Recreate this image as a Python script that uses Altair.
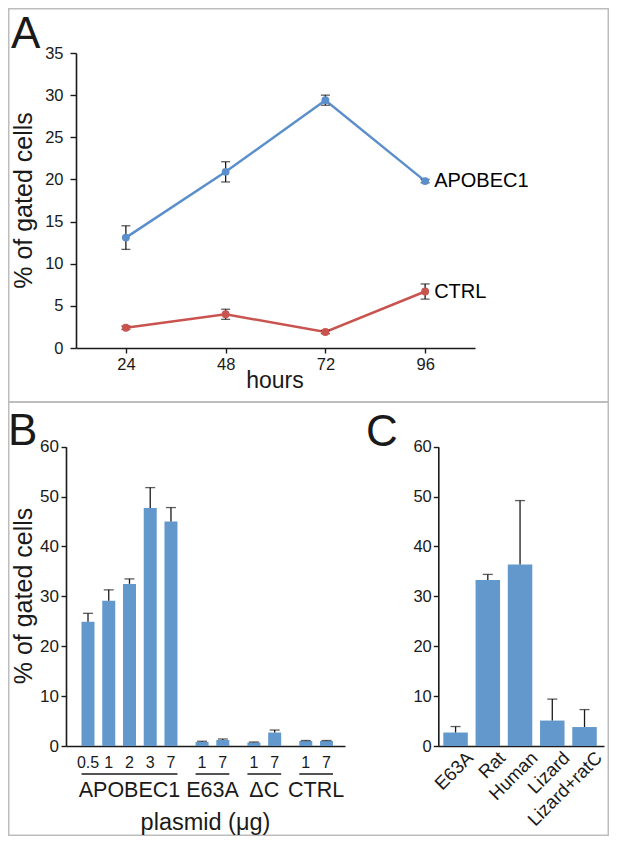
import altair as alt
import pandas as pd

FONT = "Liberation Sans"
INK = "#1a1a1a"
BLUE = "#5b8fcb"
RED = "#c9544f"
BAR = "#6398cd"
FRAME = "#bdbdbd"

# ---------------- Panel A data ----------------
hours = [24, 48, 72, 96]
series_names = ["APOBEC1", "CTRL"]
apobec1_mean = [13.1, 20.9, 29.4, 19.8]
apobec1_err = [1.4, 1.2, 0.6, 0.2]
ctrl_mean = [2.4, 4.0, 1.9, 6.7]
ctrl_err = [0.2, 0.6, 0.2, 0.9]
a_ticks = [0, 5, 10, 15, 20, 25, 30, 35]

# ---------------- Panel B data ----------------
b_group_names = ["APOBEC1", "E63A", "ΔC", "CTRL"]
b_doses = [["0.5", "1", "2", "3", "7"], ["1", "7"], ["1", "7"], ["1", "7"]]
b_values = [24.9, 29.1, 32.5, 47.7, 45.0, 0.8, 1.2, 0.7, 2.7, 1.0, 1.0]
b_errors = [1.7, 2.2, 1.0, 4.1, 2.8, 0.15, 0.2, 0.1, 0.5, 0.1, 0.1]
bc_ticks = [0, 10, 20, 30, 40, 50, 60]

# ---------------- Panel C data ----------------
c_categories = ["E63A", "Rat", "Human", "Lizard", "Lizard+ratC"]
c_values = [2.7, 33.3, 36.4, 5.1, 3.8]
c_errors = [1.2, 1.1, 12.8, 4.3, 3.5]

one = pd.DataFrame({"k": [0]})

dfA = pd.DataFrame({
    "hours": hours * 2,
    "mean": apobec1_mean + ctrl_mean,
    "err": apobec1_err + ctrl_err,
    "series": [series_names[0]] * len(hours) + [series_names[1]] * len(hours),
})
dfA["lo"] = dfA["mean"] - dfA["err"]
dfA["hi"] = dfA["mean"] + dfA["err"]

rows = []
i = 0
for g, (name, doses) in enumerate(zip(b_group_names, b_doses)):
    for d in doses:
        rows.append({"group": name, "dose": d, "slot": i + 0.5 * g,
                     "value": b_values[i], "top": b_values[i] + b_errors[i]})
        i += 1
dfB = pd.DataFrame(rows)

dfC = pd.DataFrame({"cat": c_categories, "value": c_values,
                    "top": [v + e for v, e in zip(c_values, c_errors)]})

W, H = 601, 828   # whole figure drawn in a single view (page = view + 8px)


def axis(**kw):
    base = dict(domainColor=INK, domainWidth=1.6, tickColor=INK, tickWidth=1.4,
                labelColor=INK, labelFont=FONT, grid=False, title=None,
                labelFlush=False, labelOverlap=False)
    base.update(kw)
    return alt.Axis(**base)


def text(s, x, y, size, **kw):
    return alt.Chart(one).mark_text(text=s, fontSize=size, font=FONT, color=INK,
                                    **kw).encode(x=alt.value(x), y=alt.value(y))


# ---------------- decorations: frame, panel letters, titles ----------------
frameBox = alt.Chart(one).mark_rect(fillOpacity=0, stroke=FRAME, strokeWidth=1.5).encode(
    x=alt.value(0.75), x2=alt.value(W - 0.75), y=alt.value(0.75), y2=alt.value(H - 0.75))
frameDiv = alt.Chart(one).mark_rule(color=FRAME, strokeWidth=2).encode(
    x=alt.value(0.75), x2=alt.value(W - 0.75), y=alt.value(394))
deco = alt.layer(
    frameBox, frameDiv,
    text("A", 3, 40, 44, align="left", baseline="alphabetic"),
    text("B", 0, 437, 44, align="left", baseline="alphabetic"),
    text("C", 358, 438, 44, align="left", baseline="alphabetic"),
    text("% of gated cells", 24, 192.5, 25, align="center", baseline="alphabetic", angle=270),
    text("hours", 267, 380, 23, align="center", baseline="alphabetic"),
    text("% of gated cells", 23.7, 588, 25, align="center", baseline="alphabetic", angle=270),
    text("plasmid (μg)", 197.5, 821.5, 23.5, align="center", baseline="alphabetic"),
)

# ---------------- Panel A ----------------
xA = alt.X("hours:Q", scale=alt.Scale(domain=[12, 108], range=[68, 467], nice=False, zero=False),
           axis=axis(orient="bottom", offset=340 - H, values=hours, tickSize=5,
                     labelFontSize=16.5, labelPadding=3.5))
yA = alt.Y("mean:Q", scale=alt.Scale(domain=[0, 35], range=[340, 45], nice=False),
           axis=axis(orient="left", offset=-68, values=a_ticks, tickSize=6,
                     labelFontSize=16.5, labelPadding=7))
colA = alt.Color("series:N", scale=alt.Scale(domain=series_names, range=[BLUE, RED]),
                 legend=None)
baseA = alt.Chart(dfA)
linesA = baseA.mark_line(strokeWidth=2.5).encode(x=xA, y=yA, color=colA, detail="series:N")
errA = baseA.mark_rule(color=INK, strokeWidth=1.3).encode(x=xA, y="lo:Q", y2="hi:Q")
capHiA = baseA.mark_tick(orient="horizontal", size=9, thickness=1.3, color=INK).encode(x=xA, y="hi:Q")
capLoA = baseA.mark_tick(orient="horizontal", size=9, thickness=1.3, color=INK).encode(x=xA, y="lo:Q")
ptsA = baseA.mark_circle(size=62, opacity=1).encode(x=xA, y=yA, color=colA)
labA = baseA.transform_filter(alt.datum.hours == hours[-1]).mark_text(
    align="left", baseline="middle", dx=9, fontSize=20, font=FONT, color="black").encode(
    x=xA, y=yA, text="series:N")
panelA = alt.layer(linesA, errA, capHiA, capLoA, ptsA, labA)

# ---------------- Panel B ----------------
xB = alt.X("slot:Q", scale=alt.Scale(domain=[-0.82, 12.15], range=[58, 337], nice=False,
                                     zero=False),
           axis=axis(orient="bottom", offset=738 - H, labels=False, ticks=False, tickSize=0))
yB = alt.Y("value:Q", scale=alt.Scale(domain=[0, 60], range=[738, 438.7], nice=False),
           axis=axis(orient="left", offset=-58, values=bc_ticks, tickSize=5,
                     labelFontSize=17, labelPadding=2.5))
baseB = alt.Chart(dfB)
barsB = baseB.mark_bar(width=13, color=BAR).encode(x=xB, y=yB)
errB = baseB.mark_rule(color=INK, strokeWidth=1.3).encode(x=xB, y="value:Q", y2="top:Q")
capB = baseB.mark_tick(orient="horizontal", size=10, thickness=1.3, color=INK).encode(x=xB, y="top:Q")
doseB = baseB.mark_text(baseline="alphabetic", fontSize=16, font=FONT, color=INK).encode(
    x=xB, y=alt.value(760.3), text="dose:N")
aggB = baseB.transform_aggregate(lo="min(slot)", hi="max(slot)", mid="mean(slot)",
                                 groupby=["group"])
ulineB = aggB.mark_rule(color=INK, strokeWidth=1.3, xOffset=-6.5, x2Offset=6.5).encode(
    x=alt.X("lo:Q"), x2="hi:Q", y=alt.value(766))
glabB = aggB.mark_text(baseline="alphabetic", fontSize=21.5, font=FONT, color=INK).encode(
    x=alt.X("mid:Q"), y=alt.value(789.3), text="group:N")
panelB = alt.layer(barsB, errB, capB, doseB, ulineB, glabB)

# ---------------- Panel C ----------------
xC = alt.X("cat:N", sort=c_categories,
           scale=alt.Scale(range=[430.3, 596], paddingInner=0.24, paddingOuter=0.19,
                           align=0.41),
           axis=axis(orient="bottom", offset=738 - H, labelAngle=-45, labelAlign="right",
                     labelBaseline="top", ticks=False, tickSize=0, labelFontSize=18.5,
                     labelPadding=2, labelOffset=8))
yC = alt.Y("value:Q", scale=alt.Scale(domain=[0, 60], range=[738, 438.7], nice=False),
           axis=axis(orient="left", offset=-430.3, values=bc_ticks, tickSize=5,
                     labelFontSize=16.5, labelPadding=2))
baseC = alt.Chart(dfC)
barsC = baseC.mark_bar(color=BAR).encode(x=xC, y=yC)
errC = baseC.mark_rule(color=INK, strokeWidth=1.3).encode(x=xC, y="value:Q", y2="top:Q")
capC = baseC.mark_tick(orient="horizontal", size=10, thickness=1.3, color=INK).encode(x=xC, y="top:Q")
panelC = alt.layer(barsC, errC, capC)

chart = alt.layer(deco, panelA, panelB, panelC).resolve_scale(
    x="independent", y="independent").properties(
    width=W, height=H, padding=0,
    autosize=alt.AutoSizeParams(type="none")).configure_view(
    stroke="transparent", strokeWidth=0)

chart.save("out.html", embed_options={"renderer": "svg", "actions": False})
